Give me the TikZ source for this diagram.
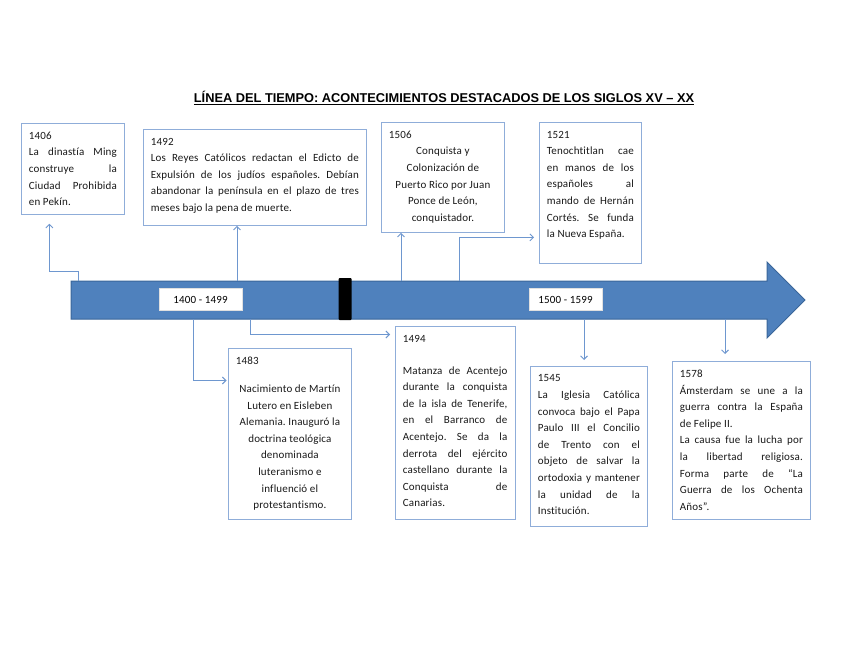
\documentclass[tikz,border=0pt]{standalone}
\usepackage{fontspec}
\setmainfont{Carlito}[Ligatures=NoCommon, LetterSpace=1.5]
\newfontfamily\plainfont{Carlito}[Ligatures=NoCommon]
\newfontfamily\titlefont{Liberation Sans}
\usetikzlibrary{arrows.meta,calc}
\definecolor{boxc}{HTML}{8FADD9}
\definecolor{connc}{HTML}{6E97CF}
\definecolor{arrfill}{HTML}{4F81BD}
\definecolor{arrdraw}{HTML}{3A669A}
\newcommand{\myev}[3]{\begin{minipage}[c][#2][t]{#1}\vspace*{8.5pt}\frenchspacing\tolerance=10000\hbadness=10000\parindent=0pt #3\end{minipage}}
\begin{document}
\begin{tikzpicture}[x=1pt,y=-1pt,
  evbox/.style={draw=boxc, line width=0.8pt, inner xsep=7.5pt, inner ysep=0pt, anchor=north west,
    font=\fontsize{11}{16.6}\selectfont, text=black!90},
  periodbox/.style={fill=white, draw=white!88!black, line width=0.3pt, inner sep=0pt,
    minimum height=22pt, font=\fontsize{11}{13}\selectfont},
  conn/.style={draw=connc, line width=0.9pt, -{Straight Barb[length=3.5pt,width=7pt]}}]
\useasboundingbox (0,0) rectangle (848,655);
\fill[white] (0,0) rectangle (848,655);

% title
\node[font=\titlefont\bfseries\fontsize{12.8}{15}\selectfont] (title) at (444,98)
  {\underline{LÍNEA DEL TIEMPO: ACONTECIMIENTOS DESTACADOS DE LOS SIGLOS XV – XX}};

% main arrow
\draw[fill=arrfill, draw=arrdraw, line width=1pt, line join=miter]
  (71,281) -- (767,281) -- (767,262) -- (805,300) -- (767,338) -- (767,319) -- (71,319) -- cycle;
\node[fill=black, rounded corners=1pt, minimum width=13pt, minimum height=42pt, inner sep=0pt] (marker) at (345,299) {};
\node[periodbox, minimum width=83pt] (p1) at (200.5,299.5) {1400 - 1499};
\node[periodbox, minimum width=73pt] (p2) at (565.5,299.5) {1500 - 1599};

% event boxes
\node[evbox] (b1406) at (21,123) {\myev{88pt}{91pt}{1406\par La dinastía Ming\linebreak construye la\linebreak Ciudad Prohibida\linebreak en Pekín.}};
\node[evbox] (b1492) at (143,129) {\myev{208pt}{96pt}{1492\par Los Reyes Católicos redactan el Edicto de\linebreak Expulsión de los judíos españoles. Debían\linebreak abandonar la península en el plazo de tres\linebreak meses bajo la pena de muerte.}};
\node[evbox] (b1506) at (381,122) {\myev{108pt}{110pt}{1506\par{\centering Conquista y\\ Colonización de\\ Puerto Rico por Juan\\ Ponce de León,\\ conquistador.\par}}};
\node[evbox] (b1521) at (539,122) {\myev{87pt}{141pt}{1521\par Tenochtitlan cae\linebreak en manos de los\linebreak españoles al\linebreak mando de Hernán\linebreak Cortés. Se funda\linebreak la Nueva España.}};
\node[evbox] (b1483) at (228,348) {\myev{108pt}{171pt}{1483\par\vspace{11.5pt}{\centering Nacimiento de Martín\\ Lutero en Eisleben\\ Alemania. Inauguró la\\ doctrina teológica\\ denominada\\ luteranismo e\\ influenció el\\ protestantismo.\par}}};
\node[evbox] (b1494) at (395,326) {\myev{104.5pt}{193pt}{1494\par\vspace{15.5pt}Matanza de Acentejo\linebreak durante la conquista\linebreak de la isla de Tenerife,\linebreak en el Barranco de\linebreak Acentejo. Se da la\linebreak derrota del ejército\linebreak castellano durante la\linebreak Conquista de\linebreak Canarias.}};
\node[evbox] (b1545) at (530,366) {\myev{102pt}{160pt}{1545\par La Iglesia Católica\linebreak convoca bajo el Papa\linebreak Paulo III el Concilio\linebreak de Trento con el\linebreak objeto de salvar la\linebreak ortodoxia y mantener\linebreak la unidad de la\linebreak Institución.}};
\node[evbox] (b1578) at (672,361) {\myev{123pt}{158pt}{1578\par Ámsterdam se une a la\linebreak guerra contra la España\linebreak de Felipe II.\par La causa fue la lucha por\linebreak la libertad religiosa.\linebreak Forma parte de “La\linebreak Guerra de los Ochenta\linebreak Años”.}};

% connector start points on the timeline
\coordinate (c1406) at (78,281);
\coordinate (c1492) at (237,281);
\coordinate (c1506) at (401,281);
\coordinate (c1521) at (459,281);
\coordinate (c1483) at (193,319);
\coordinate (c1494) at (250,319);
\coordinate (c1545) at (584,319);
\coordinate (c1578) at (725,319);

% connectors
\draw[conn, shorten >=9pt] (c1406) -- ++(0,-10) -| ([xshift=-23.5pt]b1406.south);
\draw[conn] (c1492) -- (c1492 |- b1492.south);
\draw[conn] (c1506) -- (c1506 |- b1506.south);
\draw[conn, shorten >=5pt] (c1521) |- ($(b1521.west)+(0,44.5)$);
\draw[conn, shorten >=5pt] (c1494) |- ($(b1494.north west)+(0,8.5)$);
\draw[conn, shorten >=1.5pt] (c1483) |- ($(b1483.north west)+(0,32.5)$);
\draw[conn, shorten >=6pt] (c1545) -- (c1545 |- b1545.north);
\draw[conn, shorten >=7pt] (c1578) -- (c1578 |- b1578.north);
\end{tikzpicture}
\end{document}
